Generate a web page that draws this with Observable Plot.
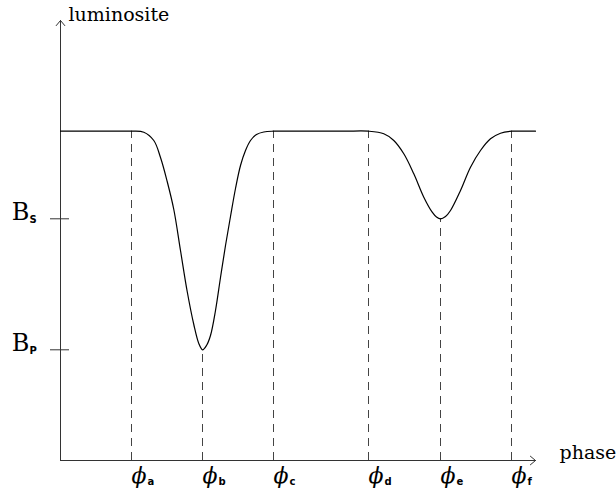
<!DOCTYPE html>
<html>
<head>
<meta charset="utf-8">
<script src="https://cdn.jsdelivr.net/npm/d3@7"></script>
<script src="https://cdn.jsdelivr.net/npm/@observablehq/plot@0.6"></script>
<style>
  html, body { margin: 0; padding: 0; background: #fff; }
  #chart svg { display: block; }
</style>
</head>
<body>
<div id="chart"></div>
<script>
// Light curve (phase, luminosity)
const curvePhase = [0, 3.5, 6.0, 7.1, 8.33, 9.33, 10.0, 10.67, 11.33, 12.0, 12.67, 13.33, 13.83, 14.2, 14.6, 15.0, 15.5, 16.0, 16.5, 17.0, 17.5, 18.0, 18.5, 19.0, 19.6, 20.33, 21.3,
  23.5, 26.0, 28.5, 30.8, 32.33, 33.33, 34.33, 35.33, 36.33, 37.17, 37.6, 38.0, 38.5, 39.0, 40.0, 41.0, 42.0, 43.0, 44.0, 45.1, 46.3, 47.5];
const curveLum = [32.93, 32.93, 32.93, 32.93, 32.83, 32.0, 30.3, 27.9, 25.1, 21.0, 16.9, 13.6, 11.7, 11.07, 11.5, 12.5, 15.0, 18.3, 21.5, 24.4, 27.2, 29.5, 31.0, 32.0, 32.6, 32.85, 32.93,
  32.93, 32.93, 32.93, 32.93, 32.67, 32.0, 30.67, 28.67, 26.33, 24.83, 24.35, 24.17, 24.4, 25.0, 27.0, 29.33, 31.0, 32.17, 32.73, 32.93, 32.93, 32.93];

// Marked phases
const phaseSub = ["a", "b", "c", "d", "e", "f"];
const phasePos = [7.1, 14.2, 21.3, 30.8, 38.0, 45.1];
const phaseLum = [32.93, 11.07, 32.93, 32.93, 24.17, 32.93];

// Luminosity levels on the y axis
const levelSub = ["S", "P"];
const levelVal = [24.17, 11.07];

const xMax = 47.5, yMax = 44;
const xLabel = "phase", yLabel = "luminosite";

const curve = curvePhase.map((x, i) => ({x, y: curveLum[i]}));
const phases = phaseSub.map((s, i) => ({s, x: phasePos[i], y: phaseLum[i]}));
const levels = levelSub.map((s, i) => ({s, y: levelVal[i]}));

const serif = "DejaVu Serif";
const sans = "DejaVu Sans";

const chart = Plot.plot({
  width: 616,
  height: 491,
  marginLeft: 60,
  marginRight: 81,
  marginTop: 20,
  marginBottom: 31,
  x: {domain: [0, xMax], axis: null},
  y: {domain: [0, yMax], axis: null},
  style: {background: "#fff", overflow: "visible"},
  marks: [
    // dashed phase markers
    Plot.ruleX(phases, {x: "x", y1: 0, y2: "y", stroke: "#444", strokeWidth: 1, strokeDasharray: "8,6"}),
    // axes with arrow heads
    Plot.arrow([xLabel], {x1: 0, y1: 0, x2: xMax, y2: 0, stroke: "#333", strokeWidth: 1, headAngle: 80, headLength: 10, inset: 0}),
    Plot.arrow([yLabel], {x1: 0, y1: 0, x2: 0, y2: yMax, stroke: "#333", strokeWidth: 1, headAngle: 80, headLength: 10, inset: 0}),
    // level ticks crossing the y axis
    Plot.ruleY(levels, {y: "y", x1: 0, x2: 0, stroke: "#333", strokeWidth: 1, insetLeft: -10, insetRight: -9}),
    // light curve
    Plot.line(curve, {x: "x", y: "y", curve: "catmull-rom", stroke: "#000", strokeWidth: 1.2}),
    // axis labels
    Plot.text([yLabel], {x: 0, y: yMax, text: d => d, textAnchor: "start", lineAnchor: "bottom", dx: 8, dy: 0, fontFamily: serif, fontSize: 19, fill: "#000"}),
    Plot.text([xLabel], {x: xMax, y: 0, text: d => d, textAnchor: "start", lineAnchor: "bottom", dx: 24, dy: -2, fontFamily: serif, fontSize: 19, fill: "#000"}),
    // level labels B_S, B_P
    Plot.text(levels, {x: 0, y: "y", text: () => "B", textAnchor: "end", lineAnchor: "bottom", dx: -31, dy: 1, fontFamily: serif, fontSize: 24, fill: "#000"}),
    Plot.text(levels, {x: 0, y: "y", text: "s", textAnchor: "start", lineAnchor: "bottom", dx: -31, dy: 4, fontFamily: sans, fontSize: 10, fontWeight: "bold", fill: "#000"}),
    // phase labels phi_a ... phi_f
    Plot.text(phases, {x: "x", y: 0, text: () => "\u03D5", textAnchor: "start", lineAnchor: "bottom", dx: 0, dy: 22, fontFamily: serif, fontStyle: "italic", fontSize: 22, fill: "#000"}),
    Plot.text(phases, {x: "x", y: 0, text: "s", textAnchor: "start", lineAnchor: "bottom", dx: 16, dy: 24, fontFamily: sans, fontSize: 10, fontWeight: "bold", fill: "#000"})
  ]
});
document.getElementById("chart").appendChild(chart);
</script>
</body>
</html>
